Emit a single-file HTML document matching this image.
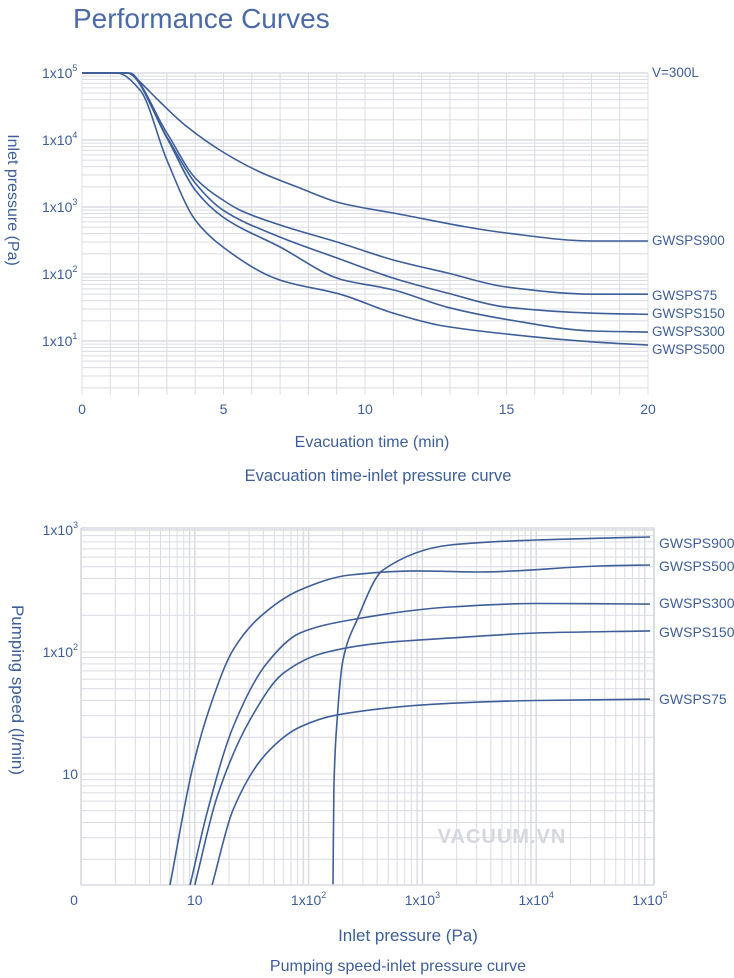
<!DOCTYPE html>
<html><head><meta charset="utf-8"><style>
html,body{margin:0;padding:0;background:#fff;}
svg{display:block;font-family:"Liberation Sans",Arial,sans-serif;}
</style></head><body>
<svg id="s" width="734" height="978" viewBox="0 0 734 978">
<text x="73" y="28" font-size="28" fill="#4a6aa8">Performance Curves</text>
<g id="top"></g>
<g id="bot"></g>
<text x="502" y="843" font-size="20" font-weight="bold" fill="#d4d8de" letter-spacing="1" text-anchor="middle">VACUUM.VN</text>
</svg>
<script>
// ---- Top chart data (time min, pressure Pa)
const topSeries = ["GWSPS900","GWSPS75","GWSPS150","GWSPS300","GWSPS500"];
const topT900 = [0,1.7,2.05,2.76,3.64,4.98,6.29,7.7,9.12,11,15,18.06,20];
const topP900 = [1e5,1e5,73500,36900,16700,6620,3330,1920,1150,813,409,311,311];
const topT75 = [0,1.59,3,4,4.98,5.58,7,9.12,11,12.9,15,18.06,20];
const topP75 = [1e5,1e5,12700,2710,1270,900,538,290,162,104,64,50,50];
const topT150 = [0,1.59,3,4,4.98,7,9.12,11,12.9,15,18.06,20];
const topP150 = [1e5,1e5,11100,2280,900,356,167,87,52,32,26,25];
const topT300 = [0,1.59,3,4,4.98,7,9.12,11,12.9,15,18.06,20];
const topP300 = [1e5,1e5,10700,1790,710,253,84,58,32,21,14.1,13.6];
const topT500 = [0,1.24,2.05,3,4,4.98,7,9.12,11,12.6,15,18.06,20];
const topP500 = [1e5,1e5,55700,5020,640,253,81,50,26,17.3,12.7,9.7,8.7];
const topXTicks = [0,5,10,15,20];
const topYExp = [5,4,3,2,1];
// ---- Bottom chart data (pressure Pa, speed l/min)
const botSeries = ["GWSPS900","GWSPS500","GWSPS300","GWSPS150","GWSPS75"];
const botP900 = [164,167,178,200,266,451,1750,1e4,1e5];
const botS900 = [1.25,7.8,27.5,85,183,470,753,828,877];
const botP500 = [6.05,9.6,13.6,21.7,37.4,84,231,893,3200,36000,1e5];
const botS500 = [1.23,11.4,35.5,104,194,322,428,462,453,507,517];
const botP300 = [9.1,12.8,21.7,43,84,231,1750,1e4,1e5];
const botS300 = [1.23,4.8,24.3,81,143,183,234,250,247];
const botP150 = [10,15.7,30.5,60,134,450,1750,1e4,1e5];
const botS150 = [1.23,6.5,27.7,67,98,119,130,143,149];
const botP75 = [14.2,21.7,43,84,178,1750,1e4,1e5];
const botS75 = [1.23,5.1,14.9,24.3,30.5,38,40,41];
const botXTickLabels = ["0","10","1x10²","1x10³","1x10⁴","1x10⁵"];
const botYTickLabels = ["10","1x10²","1x10³"];

const NS="http://www.w3.org/2000/svg";
const C="#3d5e99", G="#d9dce2";
function mk(p,tag,attrs){const e=document.createElementNS(NS,tag);for(const k in attrs)e.setAttribute(k,attrs[k]);p.appendChild(e);return e;}
// monotone cubic (Fritsch-Carlson) through pixel points with increasing x
function mono(pts){const n=pts.length;const dx=[],m=[],t=new Array(n);
 for(let i=0;i<n-1;i++){dx[i]=Math.max(pts[i+1][0]-pts[i][0],1e-6);m[i]=(pts[i+1][1]-pts[i][1])/dx[i];}
 t[0]=m[0];t[n-1]=m[n-2];
 for(let i=1;i<n-1;i++){if(m[i-1]*m[i]<=0)t[i]=0;else{const w1=2*dx[i]+dx[i-1],w2=dx[i]+2*dx[i-1];t[i]=(w1+w2)/(w1/m[i-1]+w2/m[i]);}}
 let d="M"+pts[0][0].toFixed(1)+","+pts[0][1].toFixed(1);
 for(let i=0;i<n-1;i++){const h=dx[i]/3;
  d+=" C"+(pts[i][0]+h).toFixed(1)+","+(pts[i][1]+t[i]*h).toFixed(1)+" "+(pts[i+1][0]-h).toFixed(1)+","+(pts[i+1][1]-t[i+1]*h).toFixed(1)+" "+pts[i+1][0].toFixed(1)+","+pts[i+1][1].toFixed(1);}
 return d;}

// ---- Top chart
const T=document.getElementById('top');
const tx=t=>82+t*(648-82)/20;
const ty=p=>73+(5-Math.log10(p))*67;
const tyBottom=395;
for(let t=0;t<=20;t++){const l=mk(T,'line',{x1:tx(t),x2:tx(t),y1:73,y2:tyBottom,stroke:G,'stroke-width':1});}
for(let e=0;e<5;e++)for(let m=1;m<10;m++){const y=ty(m*Math.pow(10,e));if(y>tyBottom)continue;const l=mk(T,'line',{x1:82,x2:648,y1:y,y2:y,stroke:G,'stroke-width':m==1?1.5:1});}
{const l=mk(T,'line',{x1:82,x2:648,y1:73,y2:73,stroke:G,'stroke-width':1.5});}
topXTicks.forEach(t=>{const e=mk(T,'text',{x:tx(t),y:414,'font-size':14,fill:C,'text-anchor':'middle'});e.textContent=t;});
topYExp.forEach(n=>{const e=mk(T,'text',{x:42,y:ty(Math.pow(10,n))+5,'font-size':14,fill:C});e.innerHTML='1x10<tspan font-size="9" dy="-7">'+n+'</tspan>';});
const topData=[[topT900,topP900],[topT75,topP75],[topT150,topP150],[topT300,topP300],[topT500,topP500]];
const topLabelY=[245,300,318,336,354];
topData.forEach((s,i)=>{const pts=s[0].map((t,j)=>[tx(t),ty(s[1][j])]);
 const p=mk(T,'path',{d:mono(pts),fill:'none',stroke:C,'stroke-width':1.6});
 const e=mk(T,'text',{x:652,y:topLabelY[i],'font-size':13.5,fill:C});e.textContent=topSeries[i];});
{const e=mk(T,'text',{x:652,y:77,'font-size':13.5,fill:C});e.textContent='V=300L';}
{const e=mk(T,'text',{x:0,y:0,'font-size':16,fill:C,'text-anchor':'middle',transform:'translate(8,200) rotate(90)'});e.textContent='Inlet pressure (Pa)';}
{const e=mk(T,'text',{x:372,y:447,'font-size':16,fill:C,'text-anchor':'middle'});e.textContent='Evacuation time (min)';}
{const e=mk(T,'text',{x:378,y:481,'font-size':16.5,fill:C,'text-anchor':'middle'});e.textContent='Evacuation time-inlet pressure curve';}

// ---- Bottom chart
const B=document.getElementById('bot');
const bx=p=>81+Math.log10(p)*113.8;
const by=s=>530+(3-Math.log10(s))*122;
const L=81,R=654,TOP=528,BOT=885;
for(let e=0;e<5;e++)for(let m=1;m<10;m++){const x=bx(m*Math.pow(10,e));if(x>R)continue;const l=mk(B,'line',{x1:x,x2:x,y1:TOP,y2:BOT,stroke:G,'stroke-width':(m==1||m==9)?1.5:1});}
{const l=mk(B,'line',{x1:R,x2:R,y1:TOP,y2:BOT,stroke:G,'stroke-width':2});}
for(let e=0;e<3;e++)for(let m=1;m<10;m++){const y=by(m*Math.pow(10,e));if(y>BOT)continue;const l=mk(B,'line',{x1:L,x2:R,y1:y,y2:y,stroke:G,'stroke-width':1});}
[by(1000),TOP].forEach(y=>{const l=mk(B,'line',{x1:L,x2:R,y1:y,y2:y,stroke:G,'stroke-width':1.5});});
{const l=mk(B,'line',{x1:L,x2:R,y1:BOT,y2:BOT,stroke:G,'stroke-width':1.5});}
{const l=mk(B,'line',{x1:L,x2:L,y1:TOP,y2:BOT,stroke:G,'stroke-width':1.5});}
botXTickLabels.forEach((t,i)=>{const x=i==0?74:bx(Math.pow(10,i));const e=mk(B,'text',{x:x,y:905,'font-size':14,fill:C,'text-anchor':'middle'});
 e.innerHTML=t.length>2?'1x10<tspan font-size="9" dy="-7">'+(i)+'</tspan>':t;});
botYTickLabels.forEach((t,i)=>{const y=by(Math.pow(10,i+1))+5;const e=mk(B,'text',{x:78,y:y,'font-size':14,fill:C,'text-anchor':'end'});
 e.innerHTML=i>0?'1x10<tspan font-size="9" dy="-7">'+(i+1)+'</tspan>':t;});
const botData=[[botP900,botS900],[botP500,botS500],[botP300,botS300],[botP150,botS150],[botP75,botS75]];
const botLabelY=[548,571,608,637,704];
botData.forEach((s,i)=>{const pts=s[0].map((p,j)=>[bx(p),Math.min(by(s[1][j]),BOT)]);
 const p=mk(B,'path',{d:mono(pts),fill:'none',stroke:C,'stroke-width':1.6});
 const e=mk(B,'text',{x:659,y:botLabelY[i],'font-size':14,fill:C});e.textContent=botSeries[i];});
{const e=mk(B,'text',{x:0,y:0,'font-size':17,fill:C,'text-anchor':'middle',transform:'translate(12,690) rotate(90)'});e.textContent='Pumping speed (l/min)';}
{const e=mk(B,'text',{x:408,y:941,'font-size':17,fill:C,'text-anchor':'middle'});e.textContent='Inlet pressure (Pa)';}
{const e=mk(B,'text',{x:398,y:971,'font-size':16,fill:C,'text-anchor':'middle'});e.textContent='Pumping speed-inlet pressure curve';}
</script>
</body></html>
